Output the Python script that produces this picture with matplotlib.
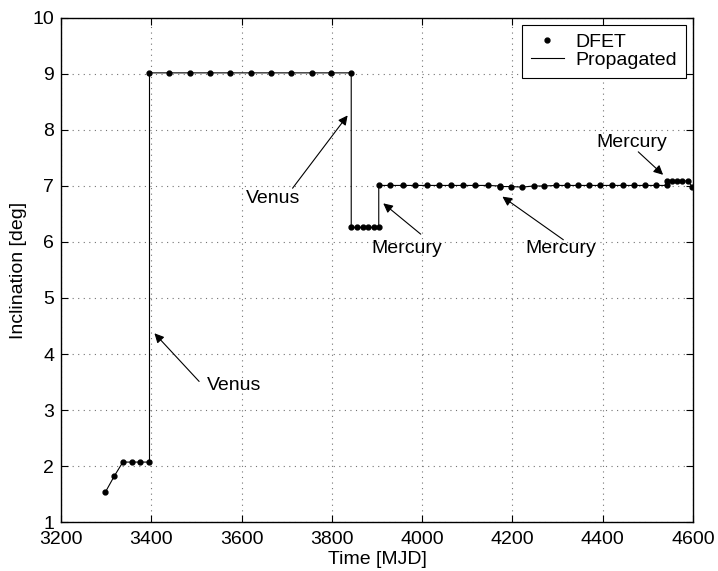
import matplotlib
matplotlib.use("Agg")
import matplotlib.pyplot as plt

plt.rcParams["font.family"] = ["Liberation Sans", "DejaVu Sans"]
plt.rcParams["font.size"] = 14

# DFET nodes (time in MJD, inclination in deg)
t_dfet = [3298, 3318, 3337, 3357, 3376, 3396,
          3396, 3440, 3486, 3530, 3575, 3620, 3665, 3710, 3755, 3799, 3843,
          3843, 3856, 3869, 3881, 3894, 3904,
          3904, 3930, 3957, 3984, 4011, 4038, 4064, 4091, 4118, 4145, 4173,
          4173, 4197, 4222, 4247, 4271, 4296, 4321, 4346, 4370, 4395, 4420,
          4445, 4470, 4494, 4519, 4543,
          4543, 4554, 4565, 4576, 4589,
          4598]
i_dfet = [1.53, 1.82, 2.07, 2.07, 2.07, 2.07,
          9.02, 9.02, 9.02, 9.02, 9.02, 9.02, 9.02, 9.02, 9.02, 9.02, 9.02,
          6.26, 6.26, 6.26, 6.26, 6.26, 6.26,
          7.01, 7.01, 7.01, 7.01, 7.01, 7.01, 7.01, 7.01, 7.01, 7.01, 7.00,
          6.99, 6.99, 6.98, 7.00, 7.00, 7.01, 7.01, 7.01, 7.01, 7.01, 7.01,
          7.01, 7.01, 7.01, 7.01, 7.01,
          7.09, 7.09, 7.09, 7.09, 7.09,
          6.99]

# flyby annotations: label, text centre, arrow tail, arrow head
labels = ["Venus", "Venus", "Mercury", "Mercury", "Mercury"]
text_xy = [(3523, 3.43), (3670, 6.77), (3966, 5.89), (4308, 5.89), (4465, 7.77)]
tail_xy = [(3506, 3.51), (3713, 6.96), (3997, 6.14), (4313, 6.04), (4479, 7.61)]
head_xy = [(3407, 4.37), (3835, 8.26), (3914, 6.69), (4178, 6.81), (4534, 7.20)]
text_ha = ["left", "center", "center", "center", "center"]

fig = plt.figure(figsize=(7.18, 5.71), dpi=100)
ax = fig.add_axes([0.085, 0.0858, 0.880, 0.8827])

ax.plot(t_dfet, i_dfet, "k.", markersize=7, label="DFET")
ax.plot(t_dfet, i_dfet, "-", color="k", lw=0.8, label="Propagated")

for lab, txy, tl, hd, ha in zip(labels, text_xy, tail_xy, head_xy, text_ha):
    ax.annotate("", xy=hd, xytext=tl,
                arrowprops=dict(arrowstyle="-|>", color="k", lw=0.8,
                                mutation_scale=14, shrinkA=0, shrinkB=0))
    ax.text(txy[0], txy[1], lab, ha=ha, va="center")

ax.set_xlim(3200, 4600)
ax.set_ylim(1, 10)
ax.set_xticks(range(3200, 4601, 200))
ax.set_yticks(range(1, 11))
ax.tick_params(direction="in", top=True, right=True, length=5, width=0.8)
ax.tick_params(axis="x", pad=6.5)
ax.tick_params(axis="y", pad=5)
ax.grid(True, color="0.45", linestyle=(0, (1, 4)), lw=0.8)
for s in ax.spines.values():
    s.set_linewidth(1.0)

ax.set_xlabel("Time [MJD]", labelpad=2)
ax.set_ylabel("Inclination [deg]", labelpad=4)

leg = ax.legend(loc="upper right", fancybox=False, edgecolor="k",
                framealpha=1, borderaxespad=0.35, handlelength=1.7,
                handletextpad=0.6, borderpad=0.45, labelspacing=0.0)
leg.get_frame().set_linewidth(0.8)

fig.savefig("out.png", dpi=100)
